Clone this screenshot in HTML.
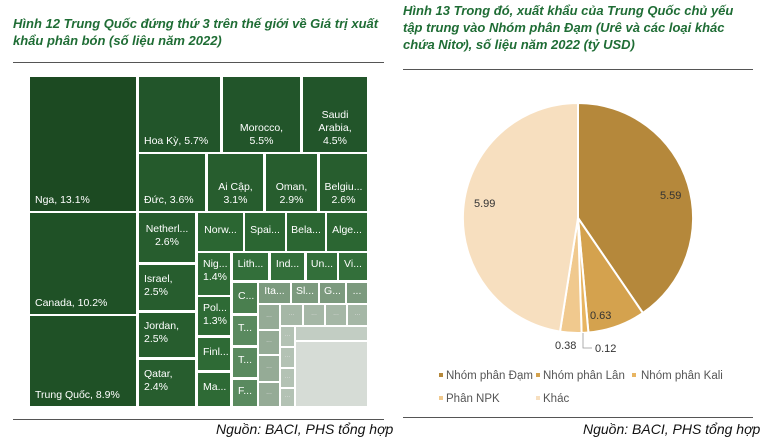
<!DOCTYPE html>
<html><head><meta charset="utf-8"><style>
body{margin:0;width:768px;height:445px;background:#fff;position:relative;overflow:hidden;font-family:"Liberation Sans",sans-serif}
.t{position:absolute;color:#1f6d35;font-weight:bold;font-style:italic;font-size:13px;line-height:17px}
.hr{position:absolute;height:1px;background:#555}
.src{position:absolute;font-style:italic;font-size:14px;color:#111}
.b{position:absolute;box-sizing:border-box;color:#fff;font-size:10.5px;line-height:13px;display:flex;align-items:flex-end;justify-content:center;text-align:center;padding-bottom:4px;overflow:hidden}
.l{justify-content:flex-start;padding-left:5px;text-align:left}
.d{color:#ddd;font-size:7px}
</style></head><body>
<div class="t" style="left:13px;top:15px">Hình 12 Trung Quốc đứng thứ 3 trên thế giới về Giá trị xuất<br>khẩu phân bón (số liệu năm 2022)</div>
<div class="hr" style="left:13px;top:62px;width:371px"></div>
<div class="t" style="left:403px;top:2px">Hình 13 Trong đó, xuất khẩu của Trung Quốc chủ yếu<br>tập trung vào Nhóm phân Đạm (Urê và các loại khác<br>chứa Nitơ), số liệu năm 2022 (tỷ USD)</div>
<div class="hr" style="left:403px;top:69px;width:350px"></div>

<div class="b l" style="left:30px;top:77px;width:106px;height:134px;background:#1c4a22">Nga, 13.1%</div>
<div class="b l" style="left:30px;top:213px;width:106px;height:101px;background:#1f5126">Canada, 10.2%</div>
<div class="b l" style="left:30px;top:316px;width:106px;height:90px;background:#1f5126">Trung Quốc, 8.9%</div>
<div class="b l" style="left:139px;top:77px;width:81px;height:75px;background:#22552a">Hoa Kỳ, 5.7%</div>
<div class="b" style="left:223px;top:77px;width:77px;height:75px;background:#22552a">Morocco,<br>5.5%</div>
<div class="b" style="left:303px;top:77px;width:64px;height:75px;background:#22552a">Saudi<br>Arabia,<br>4.5%</div>
<div class="b l" style="left:139px;top:154px;width:66px;height:57px;background:#255a2c">Đức, 3.6%</div>
<div class="b" style="left:208px;top:154px;width:55px;height:57px;background:#275d2e">Ai Cập,<br>3.1%</div>
<div class="b" style="left:266px;top:154px;width:51px;height:57px;background:#275d2e">Oman,<br>2.9%</div>
<div class="b" style="left:320px;top:154px;width:47px;height:57px;background:#275d2e">Belgiu...<br>2.6%</div>
<div class="b" style="left:139px;top:213px;width:56px;height:49px;background:#275d2e;align-items:center">Netherl...<br>2.6%</div>
<div class="b l" style="left:139px;top:265px;width:56px;height:45px;background:#275d2e;align-items:center">Israel,<br>2.5%</div>
<div class="b l" style="left:139px;top:313px;width:56px;height:44px;background:#275d2e;align-items:center">Jordan,<br>2.5%</div>
<div class="b l" style="left:139px;top:360px;width:56px;height:46px;background:#275d2e;align-items:center">Qatar,<br>2.4%</div>
<div class="b" style="left:198px;top:213px;width:45px;height:38px;background:#2b6632;align-items:center">Norw...</div>
<div class="b" style="left:245px;top:213px;width:40px;height:38px;background:#2b6632;align-items:center">Spai...</div>
<div class="b" style="left:287px;top:213px;width:38px;height:38px;background:#2b6632;align-items:center">Bela...</div>
<div class="b" style="left:327px;top:213px;width:40px;height:38px;background:#2b6632;align-items:center">Alge...</div>
<div class="b l" style="left:198px;top:253px;width:32px;height:42px;background:#2e6a35;align-items:flex-start;padding-top:5px">Nig...<br>1.4%</div>
<div class="b l" style="left:198px;top:297px;width:32px;height:38px;background:#2e6a35;align-items:flex-start;padding-top:5px">Pol...<br>1.3%</div>
<div class="b l" style="left:198px;top:338px;width:32px;height:32px;background:#2e6a35;align-items:center">Finl...</div>
<div class="b l" style="left:198px;top:373px;width:32px;height:33px;background:#2e6a35;align-items:center">Ma...</div>
<div class="b" style="left:233px;top:253px;width:35px;height:27px;background:#336f3a;align-items:center">Lith...</div>
<div class="b" style="left:271px;top:253px;width:33px;height:27px;background:#336f3a;align-items:center">Ind...</div>
<div class="b" style="left:307px;top:253px;width:30px;height:27px;background:#336f3a;align-items:center">Un...</div>
<div class="b" style="left:339px;top:253px;width:28px;height:27px;background:#336f3a;align-items:center">Vi...</div>
<div class="b l" style="left:233px;top:283px;width:24px;height:30px;background:#4a7f4f;align-items:center">C...</div>
<div class="b l" style="left:233px;top:316px;width:24px;height:29px;background:#5a8a5f;align-items:center">T...</div>
<div class="b l" style="left:233px;top:348px;width:24px;height:29px;background:#5a8a5f;align-items:center">T...</div>
<div class="b l" style="left:233px;top:380px;width:24px;height:26px;background:#5a8a5f;align-items:center">F...</div>
<div class="b" style="left:259px;top:283px;width:31px;height:20px;background:#7c9a7e;align-items:center">Ita...</div>
<div class="b" style="left:292px;top:283px;width:26px;height:20px;background:#7c9a7e;align-items:center">Sl...</div>
<div class="b" style="left:320px;top:283px;width:25px;height:20px;background:#7c9a7e;align-items:center">G...</div>
<div class="b" style="left:347px;top:283px;width:20px;height:20px;background:#7c9a7e;align-items:center">...</div>
<div class="b d" style="left:259px;top:305px;width:20px;height:24px;background:#95ab96;align-items:center">...</div>
<div class="b d" style="left:259px;top:331px;width:20px;height:23px;background:#95ab96;align-items:center">...</div>
<div class="b d" style="left:259px;top:356px;width:20px;height:25px;background:#95ab96;align-items:center">...</div>
<div class="b d" style="left:259px;top:383px;width:20px;height:23px;background:#95ab96;align-items:center">...</div>
<div class="b d" style="left:281px;top:305px;width:21px;height:20px;background:#a5b7a6;align-items:center">...</div>
<div class="b d" style="left:304px;top:305px;width:20px;height:20px;background:#a5b7a6;align-items:center">...</div>
<div class="b d" style="left:326px;top:305px;width:20px;height:20px;background:#a5b7a6;align-items:center">...</div>
<div class="b d" style="left:348px;top:305px;width:19px;height:20px;background:#a5b7a6;align-items:center">...</div>
<div class="b d" style="left:281px;top:327px;width:13px;height:19px;background:#b3c2b4;align-items:center">...</div>
<div class="b d" style="left:281px;top:348px;width:13px;height:19px;background:#b3c2b4;align-items:center">...</div>
<div class="b d" style="left:281px;top:369px;width:13px;height:18px;background:#b3c2b4;align-items:center">...</div>
<div class="b d" style="left:281px;top:389px;width:13px;height:17px;background:#b3c2b4;align-items:center">...</div>
<div class="b" style="left:296px;top:327px;width:71px;height:13px;background:#c2cdc3"></div>
<div class="b" style="left:296px;top:342px;width:71px;height:64px;background:#d6dcd6"></div>
<div class="hr" style="left:13px;top:419px;width:371px"></div>
<div class="src" style="left:216px;top:421px">Nguồn: BACI, PHS tổng hợp</div>

<svg style="position:absolute;left:0;top:0" width="768" height="445" font-family="Liberation Sans" font-size="11" fill="#333">
<path d="M578,218 L578,103 A115,115 0 0 1 642.9,313.0 Z" fill="#b5883b" stroke="#fff" stroke-width="2"/>
<path d="M578,218 L642.9,313.0 A115,115 0 0 1 588.4,332.5 Z" fill="#d4a24e" stroke="#fff" stroke-width="2"/>
<path d="M578,218 L588.4,332.5 A115,115 0 0 1 581.6,332.9 Z" fill="#e8b562" stroke="#fff" stroke-width="2"/>
<path d="M578,218 L581.6,332.9 A115,115 0 0 1 560.0,331.6 Z" fill="#f0c98e" stroke="#fff" stroke-width="2"/>
<path d="M578,218 L560.0,331.6 A115,115 0 0 1 578,103 Z" fill="#f7dfbf" stroke="#fff" stroke-width="2"/>
<text x="660" y="199">5.59</text>
<text x="590" y="319">0.63</text>
<text x="474" y="207">5.99</text>
<text x="555" y="349">0.38</text>
<text x="595" y="352">0.12</text>
<path d="M583,333 V348 H592" stroke="#999" fill="none" stroke-width="0.8"/>
<g font-size="11.5" fill="#555">
<rect x="439" y="373" width="4" height="4" fill="#b5883b"/><text x="446" y="379">Nhóm phân Đạm</text>
<rect x="536" y="373" width="4" height="4" fill="#d4a24e"/><text x="543" y="379">Nhóm phân Lân</text>
<rect x="632" y="373" width="4" height="4" fill="#e8b562"/><text x="641" y="379">Nhóm phân Kali</text>
<rect x="439" y="396" width="4" height="4" fill="#f0c98e"/><text x="446" y="402">Phân NPK</text>
<rect x="536" y="396" width="4" height="4" fill="#f7dfbf"/><text x="543" y="402">Khác</text>
</g>
</svg>
<div class="hr" style="left:403px;top:417px;width:350px"></div>
<div class="src" style="left:583px;top:421px">Nguồn: BACI, PHS tổng hợp</div>
</body></html>
